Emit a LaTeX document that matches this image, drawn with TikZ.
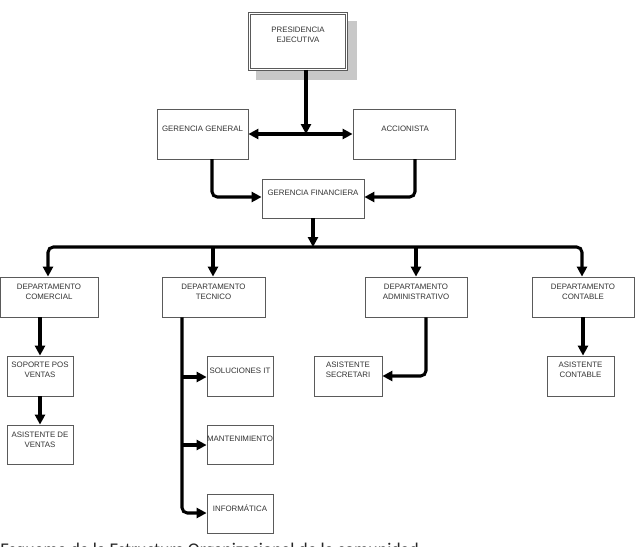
\documentclass[tikz,border=0pt]{standalone}
\usepackage{fontspec}
\setmainfont{Liberation Sans}
\newfontfamily\capfont{Carlito}
\usetikzlibrary{arrows.meta,fit}
\definecolor{boxline}{HTML}{5A5A5A}
\definecolor{boxtext}{HTML}{333333}
\definecolor{shadowgray}{HTML}{C8C8C8}
\begin{document}
\begin{tikzpicture}[x=0.75pt,y=-0.75pt,
  box/.style={draw=boxline, line width=0.6pt, fill=white, inner sep=0pt},
  lbl/.style={font=\fontsize{5.9}{7.6}\selectfont, text=boxtext, align=center, inner sep=0pt},
  conn/.style={line width=2.3pt, rounded corners=4pt, -{Triangle[length=7.5pt,width=7.5pt]}},
  connb/.style={line width=2.3pt, rounded corners=4pt, {Triangle[length=7.5pt,width=7.5pt]}-{Triangle[length=7.5pt,width=7.5pt]}},
  plain/.style={line width=2.3pt, rounded corners=4pt}]
\clip (0,0) rectangle (635,546);
\useasboundingbox (0,0) rectangle (635,546);

% top
\node[fit={(256,21) (357,80)}, fill=shadowgray, inner sep=0pt] (pshadow) {};
\node[fit={(249.5,13.5) (346.5,69.5)}, draw=boxline, double=white, double distance=1.4pt, line width=0.55pt, fill=white, inner sep=0pt] (pres) {};
\node[lbl] (pres-t) at (298,35) {PRESIDENCIA\\EJECUTIVA};

\node[box, fit={(157,109) (248,159)}] (gg) {};
\node[lbl] (gg-t) at (202.5,129) {GERENCIA GENERAL};
\node[box, fit={(353,109) (455,159)}] (acc) {};
\node[lbl] (acc-t) at (405,129) {ACCIONISTA};
\node[box, fit={(262,179) (364,218)}] (gf) {};
\node[lbl] (gf-t) at (313,193) {GERENCIA FINANCIERA};

% departments
\node[box, fit={(0.5,277) (98,317)}] (dc) {};
\node[lbl] (dc-t) at (49,291.5) {DEPARTAMENTO\\COMERCIAL};
\node[box, fit={(162,277) (265,317)}] (dt) {};
\node[lbl] (dt-t) at (213.5,291.5) {DEPARTAMENTO\\TECNICO};
\node[box, fit={(365,277) (467,317)}] (da) {};
\node[lbl] (da-t) at (416,291.5) {DEPARTAMENTO\\ADMINISTRATIVO};
\node[box, fit={(532,277) (634,317)}] (dco) {};
\node[lbl] (dco-t) at (583,291.5) {DEPARTAMENTO\\CONTABLE};

% lower boxes
\node[box, fit={(7,356) (73,396)}] (sop) {};
\node[lbl] (sop-t) at (40,370) {SOPORTE POS\\VENTAS};
\node[box, fit={(7,425) (73,464)}] (asv) {};
\node[lbl] (asv-t) at (40,439.5) {ASISTENTE DE\\VENTAS};
\node[box, fit={(207,356) (273,396)}] (sit) {};
\node[lbl] (sit-t) at (240,371) {SOLUCIONES IT};
\node[box, fit={(207,425) (273,464)}] (man) {};
\node[lbl] (man-t) at (240,439) {MANTENIMIENTO};
\node[box, fit={(207,494) (273,533)}] (inf) {};
\node[lbl] (inf-t) at (240,508) {INFORMÁTICA};
\node[box, fit={(314,356) (382,396)}] (ase) {};
\node[lbl] (ase-t) at (348,370) {ASISTENTE\\SECRETARI};
\node[box, fit={(547,356) (614,396)}] (asc) {};
\node[lbl] (asc-t) at (580.5,370) {ASISTENTE\\CONTABLE};

% coordinates
\coordinate (mid) at (306,134);
\coordinate (bus) at (313,247);
\coordinate (busL) at (48,247);
\coordinate (busR) at (582,247);

% connectors
\draw[conn] (pres.south -| mid) -- (mid);
\draw[connb] (gg.east) -- (acc.east -| acc.west);
\draw[conn] (212,159) -- (212,197) -- (gf.west |- 0,197);
\draw[conn] (415,159) -- (415,197) -- (gf.east |- 0,197);
\draw[conn] (gf.south -| bus) -- (bus);
\draw[connb] (dc.north -| busL) -- (busL) -- (busR) -- (dco.north -| busR);
\draw[conn] (213,247) -- (dt.north -| 213,0);
\draw[conn] (416,247) -- (da.north -| 416,0);

\draw[conn] (dc.south -| 40,0) -- (sop.north);
\draw[conn] (sop.south) -- (asv.north);
\draw[conn] (dt.south -| 182,0) -- (182,513) -- (inf.west |- 0,513);
\draw[conn] (182,377) -- (sit.west |- 0,377);
\draw[conn] (182,445) -- (man.west |- 0,445);
\draw[conn] (da.south -| 426,0) -- (426,376) -- (ase.east |- 0,376);
\draw[conn] (dco.south -| 583,0) -- (asc.north -| 583,0);

% caption (cut off at the bottom in the reference)
\node[font=\capfont\fontsize{13.4}{16}\selectfont, text=black!85, anchor=base west, inner sep=0pt] (cap) at (0,555) {Esquema de la Estructura Organizacional de la comunidad};
\end{tikzpicture}
\end{document}
